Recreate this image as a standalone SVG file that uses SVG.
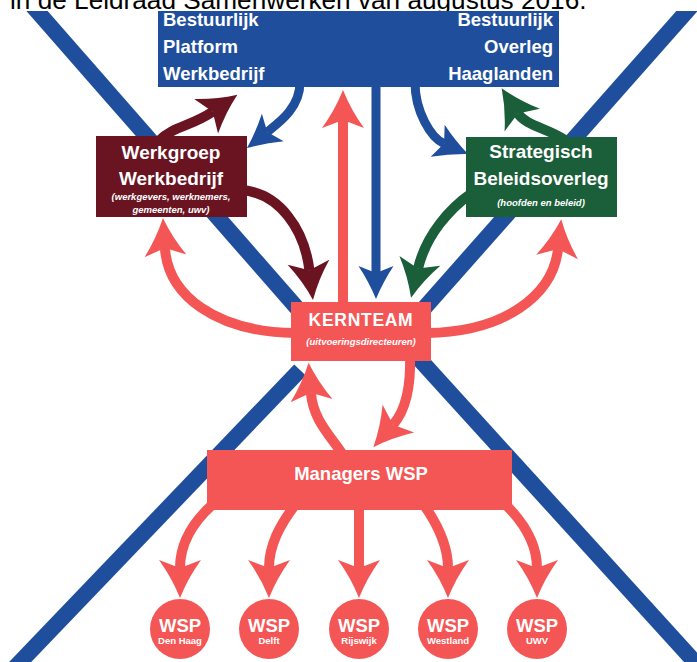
<svg xmlns="http://www.w3.org/2000/svg" width="697" height="662" viewBox="0 0 697 662">
<style>
  .title{font-family:"Liberation Sans",Arial,sans-serif;font-size:26.2px;fill:#000}
  .xl{fill:none;stroke:#1f4f9c;stroke-width:16}
  .c{fill:none;stroke-width:10}
  .cb{fill:none;stroke:#1f4f9c;stroke-width:9}
  .coral{stroke:#f45656}
  .maroon{stroke:#6a1422}
  .green{stroke:#1b5e3a}
  .lbl{font-family:"Liberation Sans",Arial,sans-serif;font-weight:bold;fill:#fff}
  .big{font-size:18.5px}
  .mid{font-size:19px;text-anchor:middle}
  .it{font-family:"Liberation Sans",Arial,sans-serif;font-weight:bold;font-style:italic;font-size:9.5px;fill:#fff;text-anchor:middle}
  .wsp{font-size:18.5px;text-anchor:middle}
  .wsps{font-size:9.5px;text-anchor:middle}
  .fb{fill:#1f4f9c}
  .fm{fill:#6a1422}
  .fg{fill:#1b5e3a}
  .fc{fill:#f45656}
</style>
<defs>
  <clipPath id="clipD"><rect x="0" y="11" width="697" height="651"/></clipPath>
  <clipPath id="clipT"><rect x="0" y="0" width="697" height="11"/></clipPath>
  <marker id="hc" markerUnits="userSpaceOnUse" orient="auto" refX="0" refY="0" markerWidth="60" markerHeight="60" overflow="visible">
    <path class="fc" d="M30,0 Q10,-8 -8,-21 L0,0 L-8,21 Q10,8 30,0 Z"/>
  </marker>
  <marker id="hm" markerUnits="userSpaceOnUse" orient="auto" refX="0" refY="0" markerWidth="60" markerHeight="60" overflow="visible">
    <path class="fm" d="M30,0 Q10,-8 -8,-21 L0,0 L-8,21 Q10,8 30,0 Z"/>
  </marker>
  <marker id="hg" markerUnits="userSpaceOnUse" orient="auto" refX="0" refY="0" markerWidth="60" markerHeight="60" overflow="visible">
    <path class="fg" d="M30,0 Q10,-8 -8,-21 L0,0 L-8,21 Q10,8 30,0 Z"/>
  </marker>
  <marker id="hb" markerUnits="userSpaceOnUse" orient="auto" refX="0" refY="0" markerWidth="60" markerHeight="60" overflow="visible">
    <path class="fb" d="M26,0 Q9,-7 -7,-17.5 L0,0 L-7,17.5 Q9,7 26,0 Z"/>
  </marker>
</defs>
<rect x="0" y="0" width="697" height="662" fill="#fff"/>
<text class="title" x="10" y="9" clip-path="url(#clipT)">in de Leidraad Samenwerken van augustus 2016.</text>

<g id="cross-lines" clip-path="url(#clipD)">
  <line class="xl" x1="19.5" y1="-9" x2="325" y2="340"/>
  <line class="xl" x1="704.7" y1="-9" x2="396" y2="340"/>
  <line class="xl" x1="300" y1="370" x2="1" y2="682"/>
  <line class="xl" x1="412" y1="351" x2="713" y2="682"/>
</g>

<g id="connectors">
  <path class="c maroon" d="M160,140 C172,127 192,126 212.7,111.7" marker-end="url(#hm)"/>
  <path class="cb" d="M300,82 C300,108 279,122.6 267.3,131.9" marker-end="url(#hb)"/>
  <path class="c coral" d="M343,305 L343,120" marker-end="url(#hc)"/>
  <path class="cb" d="M376,80 L376,273" marker-end="url(#hb)"/>
  <path class="cb" d="M415,82 C415,112 431.2,138 444.1,143.6" marker-end="url(#hb)"/>
  <path class="c green" d="M565,140 C548,128 526,126 517.9,113.4" marker-end="url(#hg)"/>
  <path class="c maroon" d="M240,190 C280,192 304.6,230.6 309.4,270.2" marker-end="url(#hm)"/>
  <path class="c green" d="M472,193 C450,208 426,235 418,268.6" marker-end="url(#hg)"/>
  <path class="c coral" d="M295,333 C215,332 168,295 164.9,247.9" marker-end="url(#hc)"/>
  <path class="c coral" d="M427,333 C505,332 553,295 558,249" marker-end="url(#hc)"/>
  <path class="c coral" d="M343,455 C330,435 313,420 310.9,392.7" marker-end="url(#hc)"/>
  <path class="c coral" d="M410,355 C411,385 406,410 393.1,424.7" marker-end="url(#hc)"/>
  <path class="c coral" d="M212,505 C190,525 180,545 180,568" marker-end="url(#hc)"/>
  <path class="c coral" d="M295,505 C280,525 269,545 269,568" marker-end="url(#hc)"/>
  <path class="c coral" d="M359,505 L359,568" marker-end="url(#hc)"/>
  <path class="c coral" d="M424,505 C438,525 448,545 448,568" marker-end="url(#hc)"/>
  <path class="c coral" d="M506,505 C526,525 537,545 537,568" marker-end="url(#hc)"/>
</g>

<g id="n-top">
  <rect class="fb" x="158" y="11" width="401" height="76"/>
  <g id="n-bpw">
    <text class="lbl big" x="163" y="26">Bestuurlijk</text>
    <text class="lbl big" x="163" y="53">Platform</text>
    <text class="lbl big" x="163" y="80">Werkbedrijf</text>
  </g>
  <g id="n-boh">
    <text class="lbl big" x="553" y="26" text-anchor="end">Bestuurlijk</text>
    <text class="lbl big" x="553" y="53" text-anchor="end">Overleg</text>
    <text class="lbl big" x="553" y="80" text-anchor="end">Haaglanden</text>
  </g>
</g>

<g id="n-werkgroep">
  <rect class="fm" x="96" y="136" width="151" height="81"/>
  <text class="lbl mid" x="171" y="159">Werkgroep</text>
  <text class="lbl mid" x="171" y="185">Werkbedrijf</text>
  <text class="it" x="171" y="200">(werkgevers, werknemers,</text>
  <text class="it" x="171" y="213">gemeenten, uwv)</text>
</g>

<g id="n-strategisch">
  <rect class="fg" x="466" y="137" width="151" height="80"/>
  <text class="lbl mid" x="541" y="158">Strategisch</text>
  <text class="lbl mid" x="541" y="185">Beleidsoverleg</text>
  <text class="it" x="541" y="206">(hoofden en beleid)</text>
</g>

<g id="n-kernteam">
  <rect class="fc" x="291" y="302" width="140" height="59"/>
  <text class="lbl" x="361" y="325.7" font-size="17.5" letter-spacing="0.7" text-anchor="middle">KERNTEAM</text>
  <text class="it" x="361" y="345">(uitvoeringsdirecteuren)</text>
</g>

<g id="n-managers">
  <rect class="fc" x="207" y="450" width="305" height="60"/>
  <text class="lbl" x="361" y="480" font-size="18.5" text-anchor="middle">Managers WSP</text>
</g>

<g id="n-wsp-denhaag">
  <circle class="fc" cx="180" cy="629" r="30"/>
  <text class="lbl wsp" x="180" y="632">WSP</text>
  <text class="lbl wsps" x="180" y="644">Den Haag</text>
</g>
<g id="n-wsp-delft">
  <circle class="fc" cx="269" cy="629" r="30"/>
  <text class="lbl wsp" x="269" y="632">WSP</text>
  <text class="lbl wsps" x="269" y="644">Delft</text>
</g>
<g id="n-wsp-rijswijk">
  <circle class="fc" cx="359" cy="629" r="30"/>
  <text class="lbl wsp" x="359" y="632">WSP</text>
  <text class="lbl wsps" x="359" y="644">Rijswijk</text>
</g>
<g id="n-wsp-westland">
  <circle class="fc" cx="448" cy="629" r="30"/>
  <text class="lbl wsp" x="448" y="632">WSP</text>
  <text class="lbl wsps" x="448" y="644">Westland</text>
</g>
<g id="n-wsp-uwv">
  <circle class="fc" cx="537" cy="629" r="30"/>
  <text class="lbl wsp" x="537" y="632">WSP</text>
  <text class="lbl wsps" x="537" y="644">UWV</text>
</g>
</svg>
